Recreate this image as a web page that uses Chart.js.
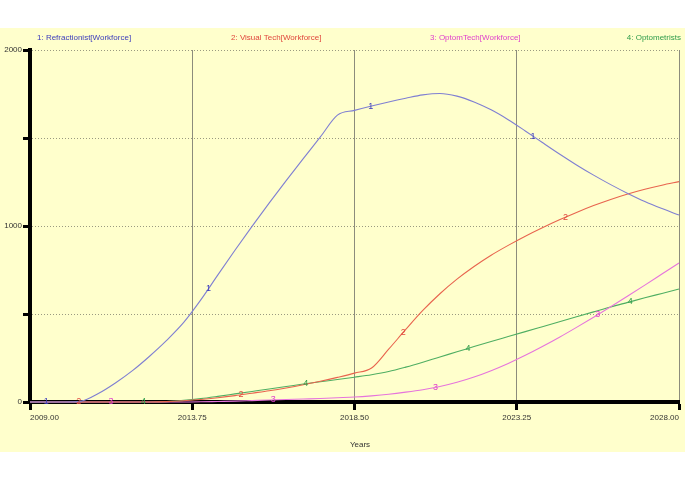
<!DOCTYPE html>
<html>
<head>
<meta charset="utf-8">
<script src="https://cdn.jsdelivr.net/npm/chart.js@4/dist/chart.umd.min.js"></script>
<style>
body { margin: 0; background: #fff; }
canvas { display: block; }
</style>
</head>
<body>
<canvas id="chart" width="685" height="480"></canvas>
<script>
// Workforce model output, sampled every half year
const years = [2009, 2009.5, 2010, 2010.5, 2011, 2011.5, 2012, 2012.5, 2013, 2013.5,
    2014, 2014.5, 2015, 2015.5, 2016, 2016.5, 2017, 2017.5, 2018, 2018.5,
    2019, 2019.5, 2020, 2020.5, 2021, 2021.5, 2022, 2022.5, 2023, 2023.5,
    2024, 2024.5, 2025, 2025.5, 2026, 2026.5, 2027, 2027.5, 2028];

const refractionist = [0, 0, 0, 5, 48, 108, 178, 260, 350, 452,
    580, 722, 862, 998, 1130, 1258, 1383, 1506, 1630, 1657,
    1682, 1705, 1726, 1745, 1753, 1738, 1705, 1660, 1604, 1540,
    1474, 1409, 1347, 1289, 1235, 1185, 1139, 1099, 1062];

const visualTech = [0, 0, 0, 0, 0, 0, 0, 0, 2, 7,
    14, 24, 36, 50, 64, 80, 98, 118, 140, 164,
    193, 300, 412, 520, 615, 698, 770, 834, 890, 942,
    990, 1035, 1077, 1116, 1151, 1182, 1209, 1232, 1252];

const optomTech = [0, 0, 0, 0, 0, 0, 0, 0, 0, 0,
    1, 3, 5, 8, 11, 14, 17, 20, 24, 28,
    35, 44, 56, 70, 88, 112, 142, 178, 219, 265,
    315, 368, 424, 482, 541, 602, 664, 727, 790];

const optometrists = [0, 0, 0, 0, 0, 0, 0, 0, 2, 9,
    19, 32, 46, 60, 74, 88, 102, 115, 128, 141,
    155, 173, 198, 226, 256, 285, 315, 344, 372, 400,
    428, 456, 484, 512, 540, 566, 592, 617, 642];

const seriesNames = ['1: Refractionist[Workforce]', '2: Visual Tech[Workforce]',
    '3: OptomTech[Workforce]', '4: Optometrists'];
const xTicks = [2009, 2013.75, 2018.5, 2023.25, 2028];
const yTicks = [0, 500, 1000, 1500, 2000];

const lineColors = ['#7f7fd2', '#e8644e', '#e674dc', '#4fae62'];
const textColors = ['#3c3cbc', '#e0463c', '#e040cc', '#2f9c4a'];
const FONT = "'Liberation Sans', Arial, sans-serif";

const allSeries = [refractionist, visualTech, optomTech, optometrists];

// yellow plot page
const pagePlugin = {
    id: 'page',
    beforeDraw(chart) {
        const ctx = chart.ctx;
        ctx.save();
        ctx.fillStyle = '#ffffcc';
        ctx.fillRect(0, 28, chart.width, 424);
        ctx.restore();
    }
};

// legend row and axis name
const textPlugin = {
    id: 'texts',
    afterDraw(chart) {
        const ctx = chart.ctx;
        ctx.save();
        ctx.font = '8px ' + FONT;
        ctx.textBaseline = 'middle';
        const xs = [37, 231, 430, 681];
        seriesNames.forEach((name, i) => {
            ctx.fillStyle = textColors[i];
            ctx.textAlign = i === 3 ? 'right' : 'left';
            ctx.fillText(name, xs[i], 38);
        });
        ctx.fillStyle = '#333';
        ctx.textAlign = 'center';
        ctx.fillText('Years', 360, 445);
        ctx.restore();
    }
};

// numbers written along each curve
function valueAt(data, x) {
    for (let i = 1; i < years.length; i++) {
        if (x <= years[i]) {
            const t = (x - years[i - 1]) / (years[i] - years[i - 1]);
            return data[i - 1] + t * (data[i] - data[i - 1]);
        }
    }
    return data[data.length - 1];
}

const markerPlugin = {
    id: 'markers',
    afterDatasetsDraw(chart) {
        const ctx = chart.ctx;
        const xs = chart.scales.x;
        const ys = chart.scales.y;
        ctx.save();
        ctx.font = '9px ' + FONT;
        ctx.textAlign = 'center';
        ctx.textBaseline = 'middle';
        allSeries.forEach((data, i) => {
            ctx.fillStyle = textColors[i];
            for (let k = 0; k < 4; k++) {
                const x = 2009.475 + i * 0.95 + k * 4.75;
                const px = xs.getPixelForValue(x);
                const py = ys.getPixelForValue(valueAt(data, x));
                ctx.fillText(String(i + 1), px, py);
            }
        });
        ctx.restore();
    }
};

new Chart(document.getElementById('chart'), {
    type: 'line',
    data: {
        datasets: allSeries.map((data, i) => ({
            label: seriesNames[i],
            data: years.map((x, j) => ({ x: x, y: data[j] })),
            borderColor: lineColors[i],
            borderWidth: 1.1,
            pointRadius: 0,
            cubicInterpolationMode: 'monotone',
            clip: false
        }))
    },
    options: {
        responsive: false,
        animation: false,
        devicePixelRatio: 1,
        layout: { padding: { top: 50, right: 6, left: 0, bottom: 0 } },
        plugins: {
            legend: { display: false },
            tooltip: { enabled: false }
        },
        scales: {
            x: {
                type: 'linear',
                min: 2009,
                max: 2028,
                afterBuildTicks: s => { s.ticks = xTicks.map(v => ({ value: v })); },
                afterFit: s => { s.height = 78; },
                grid: {
                    color: '#8c8c7c',
                    lineWidth: 1,
                    tickColor: '#000',
                    tickWidth: 3,
                    tickLength: 8
                },
                border: { color: '#000', width: 4 },
                ticks: {
                    align: 'inner',
                    autoSkip: false,
                    maxRotation: 0,
                    padding: 3,
                    color: '#333',
                    font: { family: FONT, size: 8 },
                    callback: v => v.toFixed(2)
                }
            },
            y: {
                min: 0,
                max: 2000,
                afterBuildTicks: s => { s.ticks = yTicks.map(v => ({ value: v })); },
                afterFit: s => { s.width = 30; },
                grid: {
                    color: '#9a9a80',
                    lineWidth: 1,
                    tickColor: '#000',
                    tickWidth: 3,
                    tickLength: 7,
                    tickBorderDash: []
                },
                border: { color: '#000', width: 4, dash: [1, 2] },
                ticks: {
                    padding: 1,
                    color: '#333',
                    font: { family: FONT, size: 8 },
                    callback: v => (v % 1000 === 0 ? String(v) : '')
                }
            }
        }
    },
    plugins: [pagePlugin, textPlugin, markerPlugin]
});
</script>
</body>
</html>
